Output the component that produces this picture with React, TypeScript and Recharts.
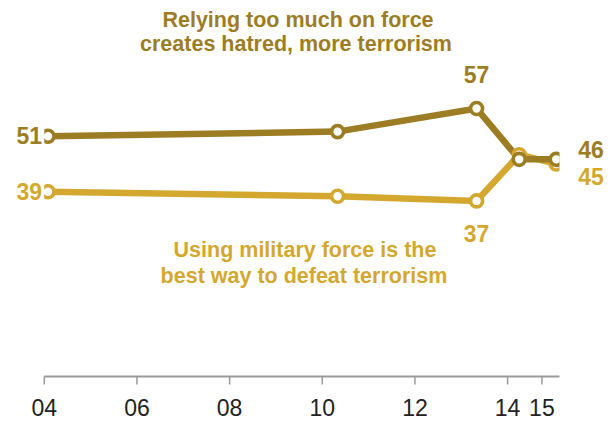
import React from "react";
import { LineChart, Line, XAxis, YAxis, LabelList } from "recharts";

const years = [2004.08, 2010.33, 2013.33, 2014.25, 2015.05];
const forceCreatesHatred = [51, 52, 57, 46, 46];
const militaryForceBest = [39, 38, 37, 47, 45];
const labeledIndices = [0, 2, 4];
const tickYears = [2004, 2006, 2008, 2010, 2012, 2014, 2014.74];
const tickLabels = ["04", "06", "08", "10", "12", "14", "15"];
const titleHatred = ["Relying too much on force", "creates hatred, more terrorism"];
const titleMilitary = ["Using military force is the", "best way to defeat terrorism"];

const DARK = "#9d7d24";
const LIGHT = "#d4a82e";
const FONT = "'Liberation Sans', Arial, sans-serif";

const data = years.map((y, i) => ({
  year: y,
  hatred: forceCreatesHatred[i],
  military: militaryForceBest[i],
}));

const makeLabel = (color: string, offsets: Record<number, [number, number, string]>) => (props: any) => {
  const { x, y, value, index } = props;
  if (!labeledIndices.includes(index)) return null;
  const o = offsets[index];
  if (!o) return null;
  return (
    <text
      x={x + o[0]}
      y={y + o[1]}
      textAnchor={o[2] as any}
      fill={color}
      fontFamily={FONT}
      fontWeight="bold"
      fontSize={23}
    >
      {value}
    </text>
  );
};

const hatredLabel = makeLabel(DARK, {
  0: [-6, 8, "end"],
  2: [0, -26, "middle"],
  4: [22, -1.5, "start"],
});
const militaryLabel = makeLabel(LIGHT, {
  0: [-6, 8, "end"],
  2: [0, 41, "middle"],
  4: [22, 21, "start"],
});

const dotStyle = (color: string) => ({ r: 6, stroke: color, strokeWidth: 3.6, fill: "#fff" });

export default function App() {
  return (
    <div style={{ position: "relative", width: 600, height: 413 }}>
      <LineChart
        width={600}
        height={413}
        data={data}
        margin={{ top: 8.1, right: 48.5, left: 36.3, bottom: 4.5 }}
      >
        <XAxis
          dataKey="year"
          type="number"
          domain={[2004, 2015.12]}
          ticks={tickYears}
          interval={0}
          allowDataOverflow
          tickFormatter={(v: number) => tickLabels[tickYears.indexOf(v)] ?? ""}
          axisLine={{ stroke: "#9a9a9a", strokeWidth: 2 }}
          tickLine={{ stroke: "#9a9a9a", strokeWidth: 1.5 }}
          tickSize={8}
          tickMargin={15.5}
          height={40}
          tick={{ fill: "#222", fontSize: 23, fontFamily: FONT }}
        />
        <YAxis hide domain={[-1, 77]} />
        <Line
          dataKey="military"
          stroke={LIGHT}
          strokeWidth={6.5}
          dot={dotStyle(LIGHT)}
          activeDot={false}
          isAnimationActive={false}
        >
          <LabelList dataKey="military" content={militaryLabel} />
        </Line>
        <Line
          dataKey="hatred"
          stroke={DARK}
          strokeWidth={6.5}
          dot={dotStyle(DARK)}
          activeDot={false}
          isAnimationActive={false}
        >
          <LabelList dataKey="hatred" content={hatredLabel} />
        </Line>
      </LineChart>
      <svg
        width={600}
        height={413}
        style={{ position: "absolute", left: 0, top: 0, pointerEvents: "none" }}
      >
        <g fontFamily={FONT} fontWeight="bold" fontSize={21.5} textAnchor="middle">
          <text x={290} y={18.7} fill={DARK}>{titleHatred[0]}</text>
          <text x={288} y={42.7} fill={DARK}>{titleHatred[1]}</text>
          <text x={297} y={249.3} fill={LIGHT}>{titleMilitary[0]}</text>
          <text x={296} y={275.3} fill={LIGHT}>{titleMilitary[1]}</text>
        </g>
      </svg>
    </div>
  );
}
